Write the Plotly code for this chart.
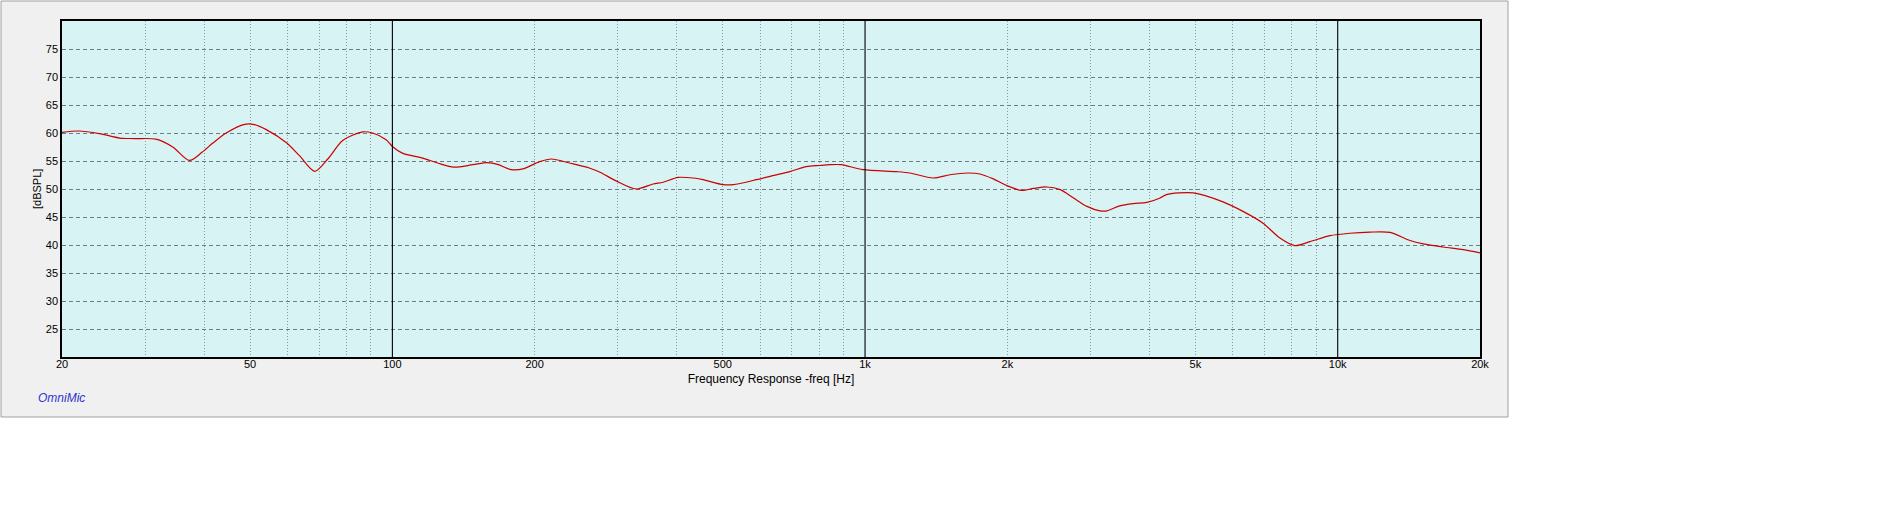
import plotly.graph_objects as go

# ---- data ----
freq_hz = [20, 21.7, 24, 26.5, 28.5, 31.6, 34.3, 37.2, 39.5, 41.7, 44.5, 48.7, 51.1, 54.1,
           59.6, 63.6, 68.5, 73.0, 78.6, 86.6, 90.8, 97, 100, 105, 116, 125, 135, 148, 159,
           167, 178.5, 189, 205, 217, 237, 261, 275, 298, 328, 356, 374, 402, 433, 454, 501,
           526, 589, 638, 693, 751, 801, 843, 891, 990, 1165, 1244, 1393, 1513, 1652, 1750,
           1868, 1995, 2145, 2271, 2424, 2588, 2762, 2947, 3143, 3250, 3459, 3693, 3945,
           4210, 4341, 4945, 5718, 6304, 6950, 7545, 8118, 8734, 9626, 10610, 11700, 12900,
           14220, 15180, 16720, 18440, 20000]
spl_db = [60.1, 60.36, 59.9, 59.1, 59.0, 58.9, 57.5, 55.1, 56.5, 58.2, 60.0, 61.55, 61.5, 60.6,
          58.3, 55.95, 53.15, 55.36, 58.7, 60.2, 60.0, 58.8, 57.6, 56.4, 55.5, 54.6, 53.9, 54.34, 54.7,
          54.4, 53.45, 53.6, 54.9, 55.36, 54.64, 53.75, 53.0, 51.4, 50.0, 50.9, 51.2, 52.07, 51.96, 51.66, 50.77,
          50.77, 51.66, 52.4, 53.1, 54.0, 54.2, 54.34, 54.34, 53.45, 53.1, 52.86, 51.96, 52.55, 52.86, 52.68,
          51.8, 50.6, 49.75, 50.1, 50.36, 49.88, 48.4, 46.9, 46.1, 46.1, 47.0, 47.4, 47.6,
          48.4, 49.0, 49.3, 47.7, 46.0, 43.9, 41.25, 39.9, 40.6, 41.66, 42.1, 42.3, 42.25,
          40.8, 40.2, 39.64, 39.16, 38.6]

x_tick_vals = [20, 50, 100, 200, 500, 1000, 2000, 5000, 10000, 20000]
x_tick_text = ["20", "50", "100", "200", "500", "1k", "2k", "5k", "10k", "20k"]
minor_grid = [m * d for d in (10, 100, 1000) for m in range(2, 10) if 20 < m * d < 20000]
decades = [100, 1000, 10000]
y_ticks = [25, 30, 35, 40, 45, 50, 55, 60, 65, 70, 75]

W, H = 1886, 524
L, R, T, B = 62, 406, 21, 167
pw, ph = W - L - R, H - T - B

def px_x(p):
    return (p - L) / pw

def px_y(p):
    return (H - B - p) / ph

font = "Liberation Sans, Arial, sans-serif"

fig = go.Figure()
fig.add_trace(go.Scatter(x=freq_hz, y=spl_db, mode="lines",
                         line=dict(color="#cc0000", width=1.2, shape="spline", smoothing=0.8),
                         hoverinfo="x+y", showlegend=False))

shapes = [
    # outer gray panel
    dict(type="rect", xref="paper", yref="paper", x0=px_x(1), x1=px_x(1508), y0=px_y(417), y1=px_y(1),
         fillcolor="#f0f0f0", line=dict(color="#a0a0a0", width=1), layer="below"),
    # plot background
    dict(type="rect", xref="paper", yref="paper", x0=0, x1=1, y0=0, y1=1,
         fillcolor="#d7f3f3", line=dict(width=0), layer="below"),
]
for d in decades:
    shapes.append(dict(type="line", xref="x", yref="paper", x0=d, x1=d, y0=0, y1=1,
                       line=dict(color="black", width=1.1), layer="above"))

fig.update_layout(
    width=W, height=H,
    margin=dict(l=L, r=R, t=T, b=B, pad=0),
    paper_bgcolor="white",
    plot_bgcolor="rgba(0,0,0,0)",
    font=dict(family=font, size=11, color="black"),
    shapes=shapes,
    xaxis=dict(type="log", range=[1.30103, 4.30103], tickmode="array",
               tickvals=x_tick_vals, ticktext=x_tick_text, showgrid=False, zeroline=False,
               ticks="", tickfont=dict(size=11), ticklabelstandoff=-4,
               showline=True, mirror=True, linecolor="black", linewidth=1.5,
               minor=dict(tickmode="array", tickvals=minor_grid, showgrid=True,
                          gridcolor="#8a9aa4", griddash="1px,2px", gridwidth=1, ticks=""),
               title=dict(text="Frequency Response -freq [Hz]", font=dict(size=12), standoff=6)),
    yaxis=dict(range=[20, 80], tickmode="array", tickvals=y_ticks, showgrid=True,
               gridcolor="#6c7c84", griddash="4px,3px", gridwidth=1, zeroline=False,
               ticks="", tickfont=dict(size=11), ticklabelstandoff=0,
               showline=True, mirror=True, linecolor="black", linewidth=1.5),
    annotations=[
        dict(text="[dBSPL]", xref="paper", yref="paper", x=px_x(37), y=px_y(189),
             xanchor="center", yanchor="middle", textangle=-90, showarrow=False,
             font=dict(size=11, color="black", family=font)),
        dict(text="<i>OmniMic</i>", xref="paper", yref="paper", x=px_x(36), y=px_y(398),
             xanchor="left", yanchor="middle", showarrow=False,
             font=dict(size=12, color="#3333cc", family=font)),
    ],
)

fig.write_html("out.html", config={"displayModeBar": False},
               post_script="document.body.style.margin='0';document.body.style.overflow='hidden';")
